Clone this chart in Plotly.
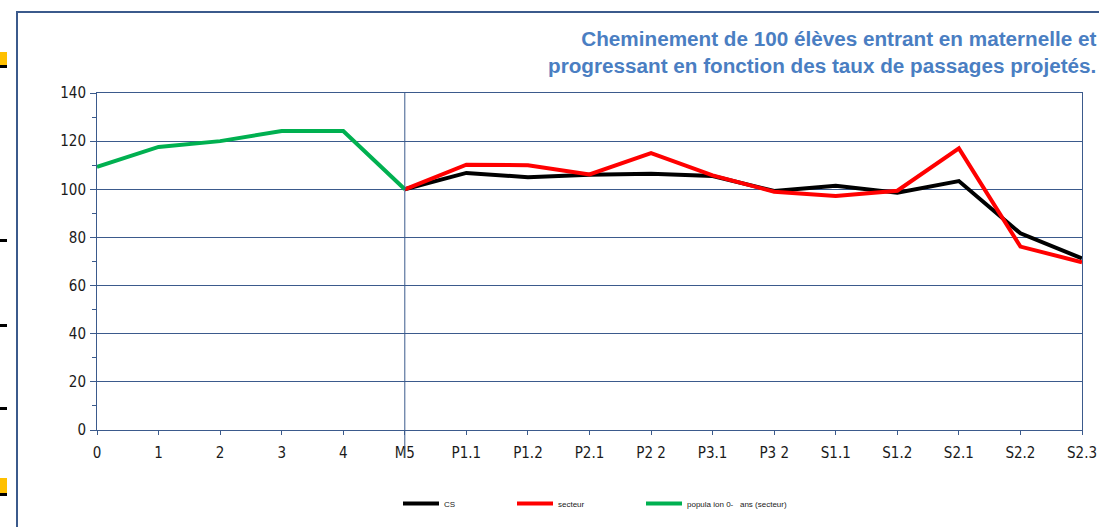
import plotly.graph_objects as go

categories = ["0", "1", "2", "3", "4", "M5", "P1.1", "P1.2", "P2.1", "P2 2",
              "P3.1", "P3 2", "S1.1", "S1.2", "S2.1", "S2.2", "S2.3"]
pop_cats = ["0", "1", "2", "3", "4", "M5"]
pop_values = [109.3, 117.6, 120.0, 124.2, 124.2, 100.0]
proj_cats = ["M5", "P1.1", "P1.2", "P2.1", "P2 2", "P3.1", "P3 2",
             "S1.1", "S1.2", "S2.1", "S2.2", "S2.3"]
cs_values = [100.0, 106.8, 105.0, 106.0, 106.5, 105.5, 99.3,
             101.5, 98.6, 103.4, 81.7, 71.3]
secteur_values = [100.0, 110.2, 110.0, 106.2, 115.0, 105.8, 99.0,
                  97.2, 99.4, 117.0, 76.2, 69.7]
series_names = ["CS", "secteur", "popula ion 0-\u00a0\u00a0 ans (secteur)"]
title_text = ("<b>Cheminement de 100 élèves entrant en maternelle et<br>"
              "progressant en fonction des taux de passages projetés.</b>")

W, H = 1099, 527
L, R, T, B = 97, 17, 93, 97
PW = W - L - R
PH = H - T - B


def px(x):
    return (x - L) / PW


def py(y):
    return (H - B - y) / PH


AX = "#3b5a8c"
TICKFONT = dict(size=15, color="#1a1a1a",
                family="DejaVu Sans Condensed, Liberation Sans Narrow, sans-serif")
fig = go.Figure()
fig.add_trace(go.Scatter(x=proj_cats, y=cs_values, mode="lines", name=series_names[0],
                         line=dict(color="#000000", width=4), legend="legend"))
fig.add_trace(go.Scatter(x=proj_cats, y=secteur_values, mode="lines", name=series_names[1],
                         line=dict(color="#ff0000", width=4), legend="legend2"))
fig.add_trace(go.Scatter(x=pop_cats, y=pop_values, mode="lines", name=series_names[2],
                         line=dict(color="#00b050", width=4), legend="legend3"))

shapes = [
    # outer frame
    dict(type="rect", xref="paper", yref="paper", x0=px(17), x1=px(1110), y0=py(540), y1=py(12),
         line=dict(color=AX, width=2), layer="below"),
    # vertical line at M5
    dict(type="line", xref="x", yref="paper", x0="M5", x1="M5", y0=py(458), y1=py(93),
         line=dict(color=AX, width=1)),
    # cropped artifacts at left edge
    dict(type="rect", xref="paper", yref="paper", x0=px(0), x1=px(7), y0=py(66), y1=py(52),
         fillcolor="#ffc000", line=dict(width=0)),
    dict(type="rect", xref="paper", yref="paper", x0=px(0), x1=px(7), y0=py(68), y1=py(65),
         fillcolor="#000000", line=dict(width=0)),
    dict(type="rect", xref="paper", yref="paper", x0=px(0), x1=px(7), y0=py(242), y1=py(239),
         fillcolor="#000000", line=dict(width=0)),
    dict(type="rect", xref="paper", yref="paper", x0=px(0), x1=px(7), y0=py(327), y1=py(324),
         fillcolor="#000000", line=dict(width=0)),
    dict(type="rect", xref="paper", yref="paper", x0=px(0), x1=px(7), y0=py(410), y1=py(407),
         fillcolor="#000000", line=dict(width=0)),
    dict(type="rect", xref="paper", yref="paper", x0=px(0), x1=px(7), y0=py(493), y1=py(478),
         fillcolor="#ffc000", line=dict(width=0)),
    dict(type="rect", xref="paper", yref="paper", x0=px(0), x1=px(7), y0=py(496), y1=py(493),
         fillcolor="#000000", line=dict(width=0)),
]


def leg(xpix):
    return dict(orientation="h", xref="container", yref="container",
                x=xpix / W, y=1 - 489 / H, xanchor="left", yanchor="top",
                font=dict(size=8, color="#1a1a1a"), itemwidth=36,
                bgcolor="rgba(0,0,0,0)")


fig.update_layout(
    width=W, height=H,
    margin=dict(l=L, r=R, t=T, b=B, pad=0, autoexpand=False),
    paper_bgcolor="white", plot_bgcolor="white",
    font=dict(family="Liberation Sans, Arial", color="#1a1a1a"),
    shapes=shapes,
    annotations=[dict(text=title_text, xref="paper", yref="paper", x=px(1098), y=py(25),
                      xanchor="right", yanchor="top", align="right", showarrow=False,
                      font=dict(size=20.7, color="#4a7ec2", family="Liberation Sans, Arial"))],
    xaxis=dict(type="category", categoryorder="array", categoryarray=categories,
               tickvals=categories, range=[0, len(categories) - 1],
               showline=True, linecolor=AX, linewidth=1, mirror=True,
               showgrid=False, ticks="outside", ticklen=4, tickcolor=AX,
               tickfont=TICKFONT, zeroline=False, automargin=False, ticklabelstandoff=5),
    yaxis=dict(range=[0, 140], dtick=20, showline=True, linecolor=AX, linewidth=1, mirror=True,
               showgrid=True, gridcolor=AX, gridwidth=1, ticks="outside", ticklen=6, tickcolor=AX,
               tickfont=TICKFONT, zeroline=False, ticklabelstandoff=1, automargin=False,
               minor=dict(dtick=10, ticks="outside", ticklen=4, tickcolor=AX, showgrid=False)),
    legend=leg(398),
    legend2=leg(512),
    legend3=leg(641),
    showlegend=True,
)

fig.write_html("out.html", config={"displayModeBar": False},
               post_script="document.body.style.margin='0';document.body.style.overflow='hidden';")
